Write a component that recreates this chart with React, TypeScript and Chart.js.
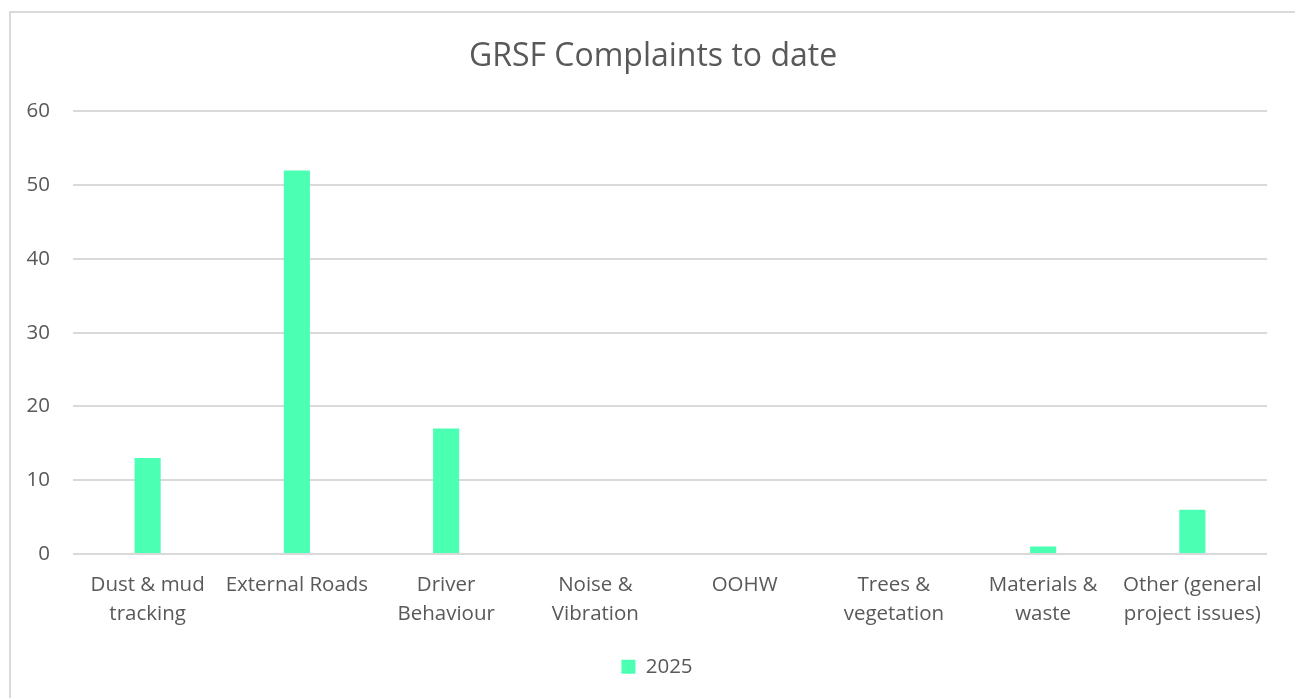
import React, { useEffect, useRef } from "react";
import { Chart, registerables } from "chart.js";

Chart.register(...registerables);

const categories: (string | string[])[] = [
  ["Dust & mud", "tracking"],
  "External Roads",
  ["Driver", "Behaviour"],
  ["Noise &", "Vibration"],
  "OOHW",
  ["Trees &", "vegetation"],
  ["Materials &", "waste"],
  ["Other (general", "project issues)"],
];
const seriesName = "2025";
const values = [13, 52, 17, 0, 0, 0, 1, 6];
const yMax = 60;
const yStep = 10;
const titleText = "GRSF Complaints to date";

const FONT = "'Open Sans', sans-serif";
const GREY = "#595959";

const blockShift = {
  id: "blockShift",
  afterLayout(chart: any) {
    const tb = chart.titleBlock;
    if (tb) {
      tb.left = 0;
      tb.right = 1284;
    }
    const lg = chart.legend;
    if (lg) {
      lg.left += 18;
      lg.right += 18;
    }
  },
};

export default function App() {
  const ref = useRef<HTMLCanvasElement>(null);
  useEffect(() => {
    if (!ref.current) return;
    const chart = new Chart(ref.current, {
      type: "bar",
      data: {
        labels: categories,
        datasets: [
          {
            label: seriesName,
            data: values,
            backgroundColor: "#4BFFB3",
            categoryPercentage: 0.175,
            barPercentage: 1,
          },
        ],
      },
      plugins: [blockShift],
      options: {
        animation: false,
        responsive: false,
        layout: { padding: { left: 0, right: 34, top: 0, bottom: 11 } },
        plugins: {
          title: {
            display: true,
            text: titleText,
            color: GREY,
            font: { family: FONT, size: 32, weight: "normal" },
            padding: { top: 25, bottom: 35 },
          },
          legend: {
            display: true,
            position: "bottom",
            labels: {
              color: GREY,
              font: { family: FONT, size: 20.5 },
              boxWidth: 14,
              boxHeight: 14,
              padding: 10.5,
            },
          },
          tooltip: { enabled: false },
        },
        scales: {
          x: {
            grid: { display: false, drawTicks: false },
            border: { display: false },
            ticks: {
              color: GREY,
              font: { family: FONT, size: 20.5, lineHeight: 1.415 },
              maxRotation: 0,
              autoSkip: false,
              padding: 17,
            },
          },
          y: {
            min: 0,
            max: yMax,
            afterFit: (s: any) => {
              s.width = 62;
            },
            grid: { color: "#d9d9d9", lineWidth: 2, drawTicks: false },
            border: { display: false },
            ticks: {
              stepSize: yStep,
              color: GREY,
              font: { family: FONT, size: 20.5 },
              padding: 23,
            },
          },
        },
      },
    });
    return () => chart.destroy();
  }, []);
  return (
    <div
      style={{
        position: "absolute",
        left: 9,
        top: 11,
        width: 1300,
        height: 700,
        border: "2px solid #d9d9d9",
        background: "#fff",
      }}
    >
      <canvas ref={ref} width={1290} height={685} style={{ display: "block" }} />
    </div>
  );
}
